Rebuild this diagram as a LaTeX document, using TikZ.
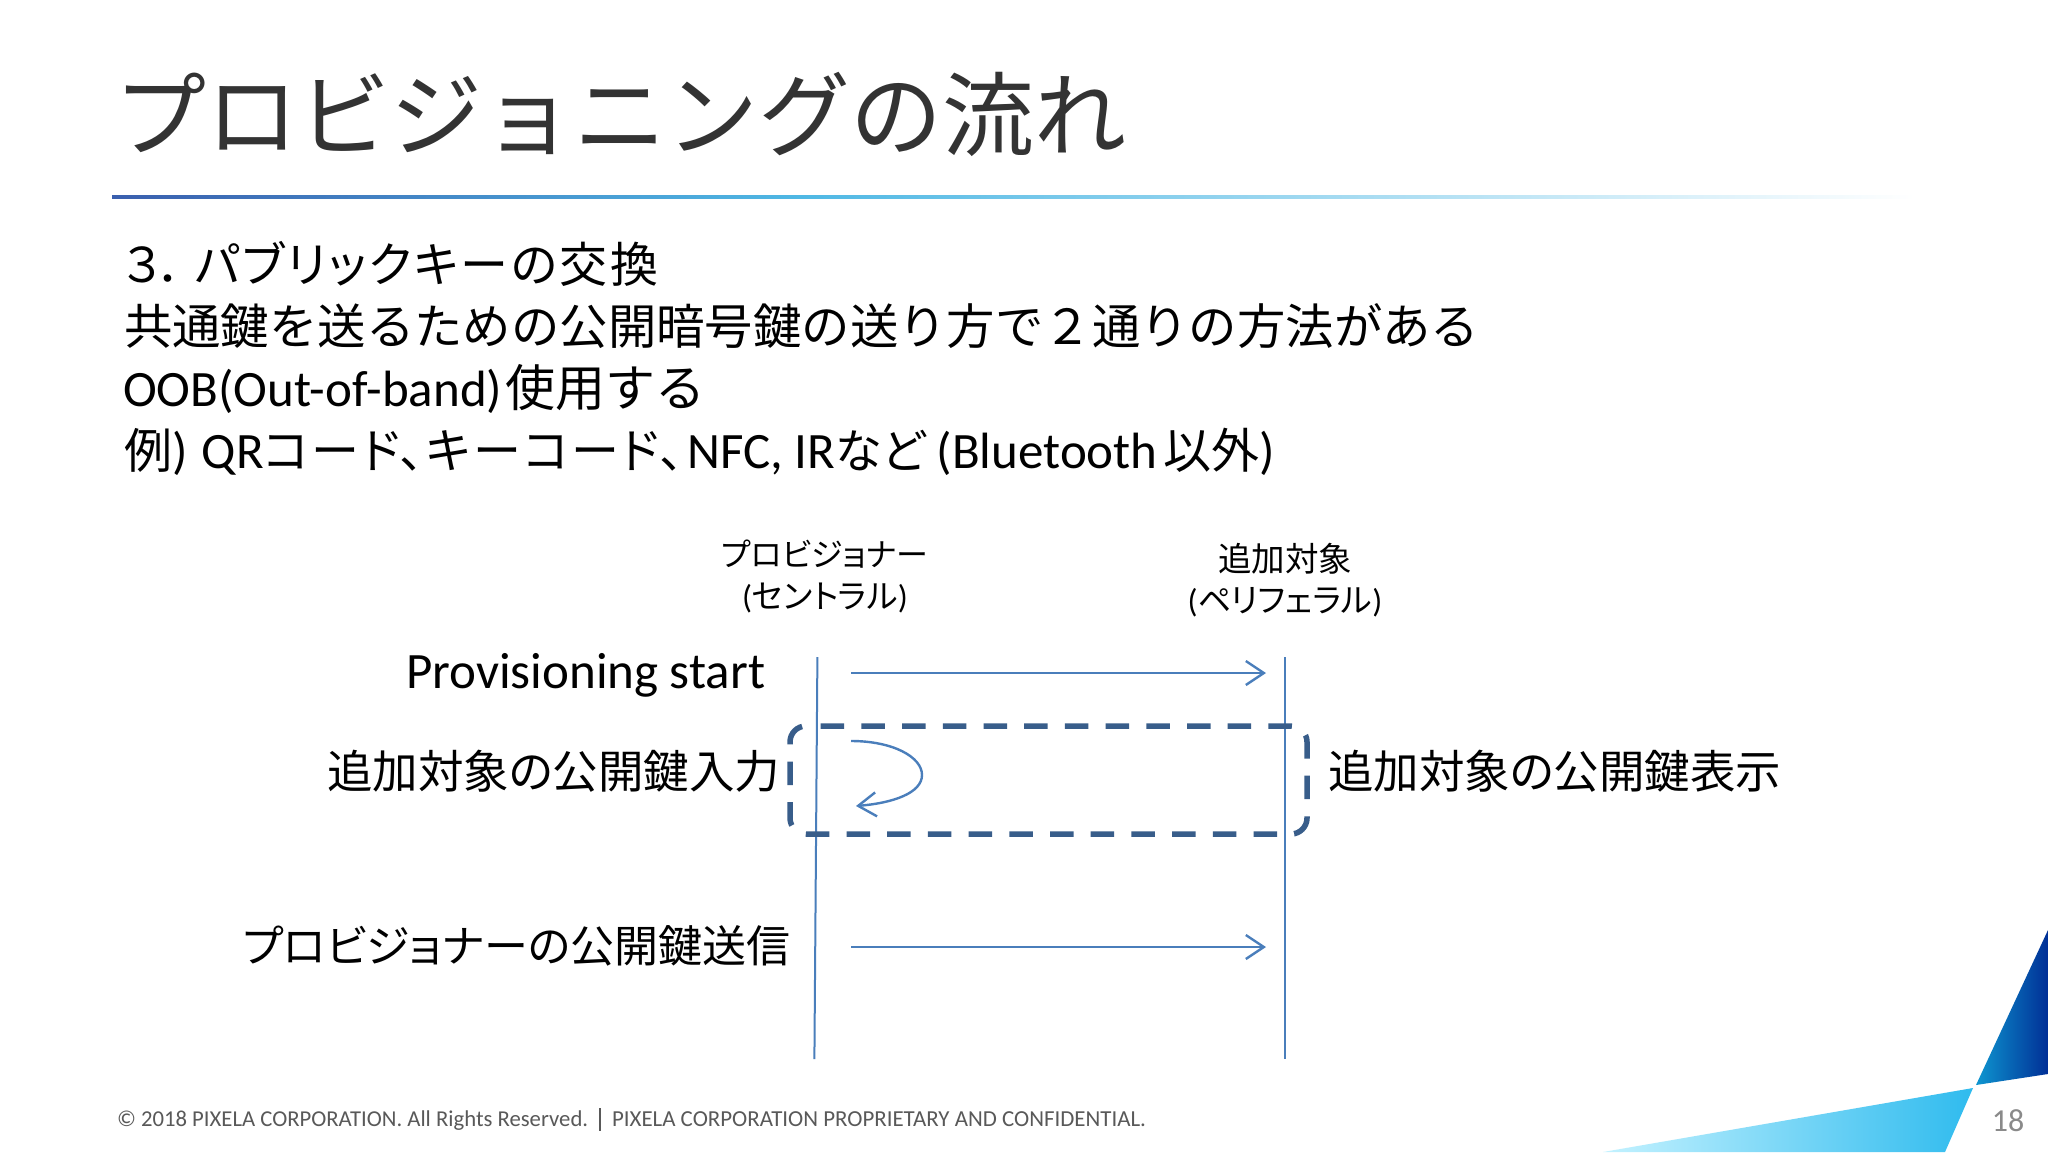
\documentclass[tikz,border=0pt]{standalone}
\usepackage{fontspec}
\usetikzlibrary{arrows.meta}
\setmainfont{Carlito}
\newfontfamily\J[RawFeature=+palt]{Noto Sans CJK JP}
\newfontfamily\JS[RawFeature=+palt,LetterSpace=5]{Noto Sans CJK JP}
\newfontfamily\JW{Noto Sans CJK JP}
\definecolor{seq}{HTML}{4A7EBB}
\definecolor{dashc}{HTML}{385D8A}
\definecolor{foot}{HTML}{595959}
\definecolor{ruleA}{HTML}{3A5FAE}
\definecolor{ruleB}{HTML}{4FB8E4}
\definecolor{topL}{HTML}{0E96D0}
\definecolor{topR}{HTML}{002F96}
\definecolor{lowL}{HTML}{C4F2FF}
\definecolor{lowR}{HTML}{2FBBEE}
\definecolor{pgc}{HTML}{8A8A8A}
\newcommand{\fs}[1]{\fontsize{#1}{#1}\selectfont}
\tikzset{
  txt/.style={anchor=base west,inner sep=0pt,outer sep=0pt,text=black},
  ctr/.style={anchor=base,inner sep=0pt,outer sep=0pt,text=black},
  life/.style={draw=seq,line width=2pt},
  msg/.style={draw=seq,line width=2.4pt,-{Straight Barb[length=18pt,width=24pt,line width=2.4pt]}},
}
\begin{document}
\begin{tikzpicture}[x=1pt,y=-1pt]
\path[use as bounding box,fill=white] (0,0) rectangle (2048,1152);
% title and rule
\node[txt,text=black!80] (title) at (114,149) {\JW\fs{92}プロビジョニングの流れ};
\shade[left color=ruleA,right color=ruleB] (112,195) rectangle (800,198);
\shade[left color=ruleB,right color=white] (800,195) rectangle (1915,198);
% body
\node[txt] (l1) at (124,282) {\fs{48}{\J ３．}\hspace{10pt}{\JS パブリックキーの交換}};
\node[txt] (l2) at (124,344) {\JW\fs{48.4}共通鍵を送るための公開暗号鍵の送り方で２通りの方法がある};
\node[txt] (l3) at (123,406) {\fs{51}OOB(Out-of-band)\hspace{3pt}{\JW\fs{50}使用する}};
\node[txt] (l4) at (124,468) {\fs{51}{\J\fs{48}例}) \hspace{3pt}QR{\JS\fs{48}コード、キーコード、}\hspace{4pt}NFC, IR{\J\fs{47}など} (Bluetooth\hspace{6pt}{\J\fs{48}以外})};
% lifeline headers
\node[ctr] (h1a) at (825,566) {\J\fs{32}プロビジョナー};
\node[ctr] (h1b) at (825,608) {\fs{33}({\J セントラル})};
\node[ctr] (h2a) at (1285,571) {\J\fs{33.5}追加対象};
\node[ctr] (h2b) at (1285,612) {\fs{33}({\J ペリフェラル})};
% lifelines
\coordinate (a1) at (817.4,657);
\coordinate (a2) at (814.4,1059);
\coordinate (b1) at (1285,657);
\coordinate (b2) at (1285,1059);
\draw[life] (a1) -- (a2);
\draw[life] (b1) -- (b2);
% messages
\coordinate (m1s) at (851,673);
\coordinate (m1e) at (1266,673);
\coordinate (m2s) at (851,947);
\coordinate (m2e) at (1266,947);
\draw[msg] (m1s) -- (m1e);
\draw[msg] (m2s) -- (m2e);
\coordinate (s1) at (851,741);
\coordinate (s2) at (922,775);
\coordinate (s3) at (856,806);
\draw[msg] (s1) .. controls (893,741) and (922,757) .. (s2) .. controls (922,793) and (893,803) .. (s3);
% dashed box
\draw[dashc,line width=5.5pt,dash pattern=on 23.5pt off 17.2pt,dash phase=26pt]
  (806,726) -- (1291,726) to[out=0,in=90] (1307,742) -- (1307,818)
  to[out=-90,in=0] (1291,834) -- (806,834)
  to[out=180,in=-90] (790,818) -- (790,742)
  to[out=90,in=180] (806,726) -- cycle;
% labels
\node[txt] (ps) at (406,688) {\fs{51}Provisioning start};
\node[txt] (in) at (327,788) {\J\fs{45.5}追加対象の公開鍵入力};
\node[txt] (dsp) at (1328,788) {\J\fs{45.5}追加対象の公開鍵表示};
\node[txt] (snd) at (243,962) {\J\fs{44}プロビジョナーの公開鍵送信};
% footer
\node[txt,text=foot] (f1) at (117,1126) {\fs{22.7}© 2018 PIXELA CORPORATION. All Rights Reserved.};
\draw[foot,line width=1.4pt] (600,1108) -- (600,1131);
\node[txt,text=foot] (f2) at (612,1126) {\fs{22.9}PIXELA CORPORATION PROPRIETARY AND CONFIDENTIAL.};
% corner triangles
\shade[left color=topL,right color=topR] (2048,930) -- (1976,1085) -- (2048,1074) -- cycle;
\shade[left color=lowL,right color=lowR] (1973,1088) -- (1945,1152) -- (1603,1152) -- cycle;
\node[anchor=base,inner sep=0pt,text=pgc] (pg) at (2008,1131) {\fs{32}18};
\end{tikzpicture}
\end{document}
